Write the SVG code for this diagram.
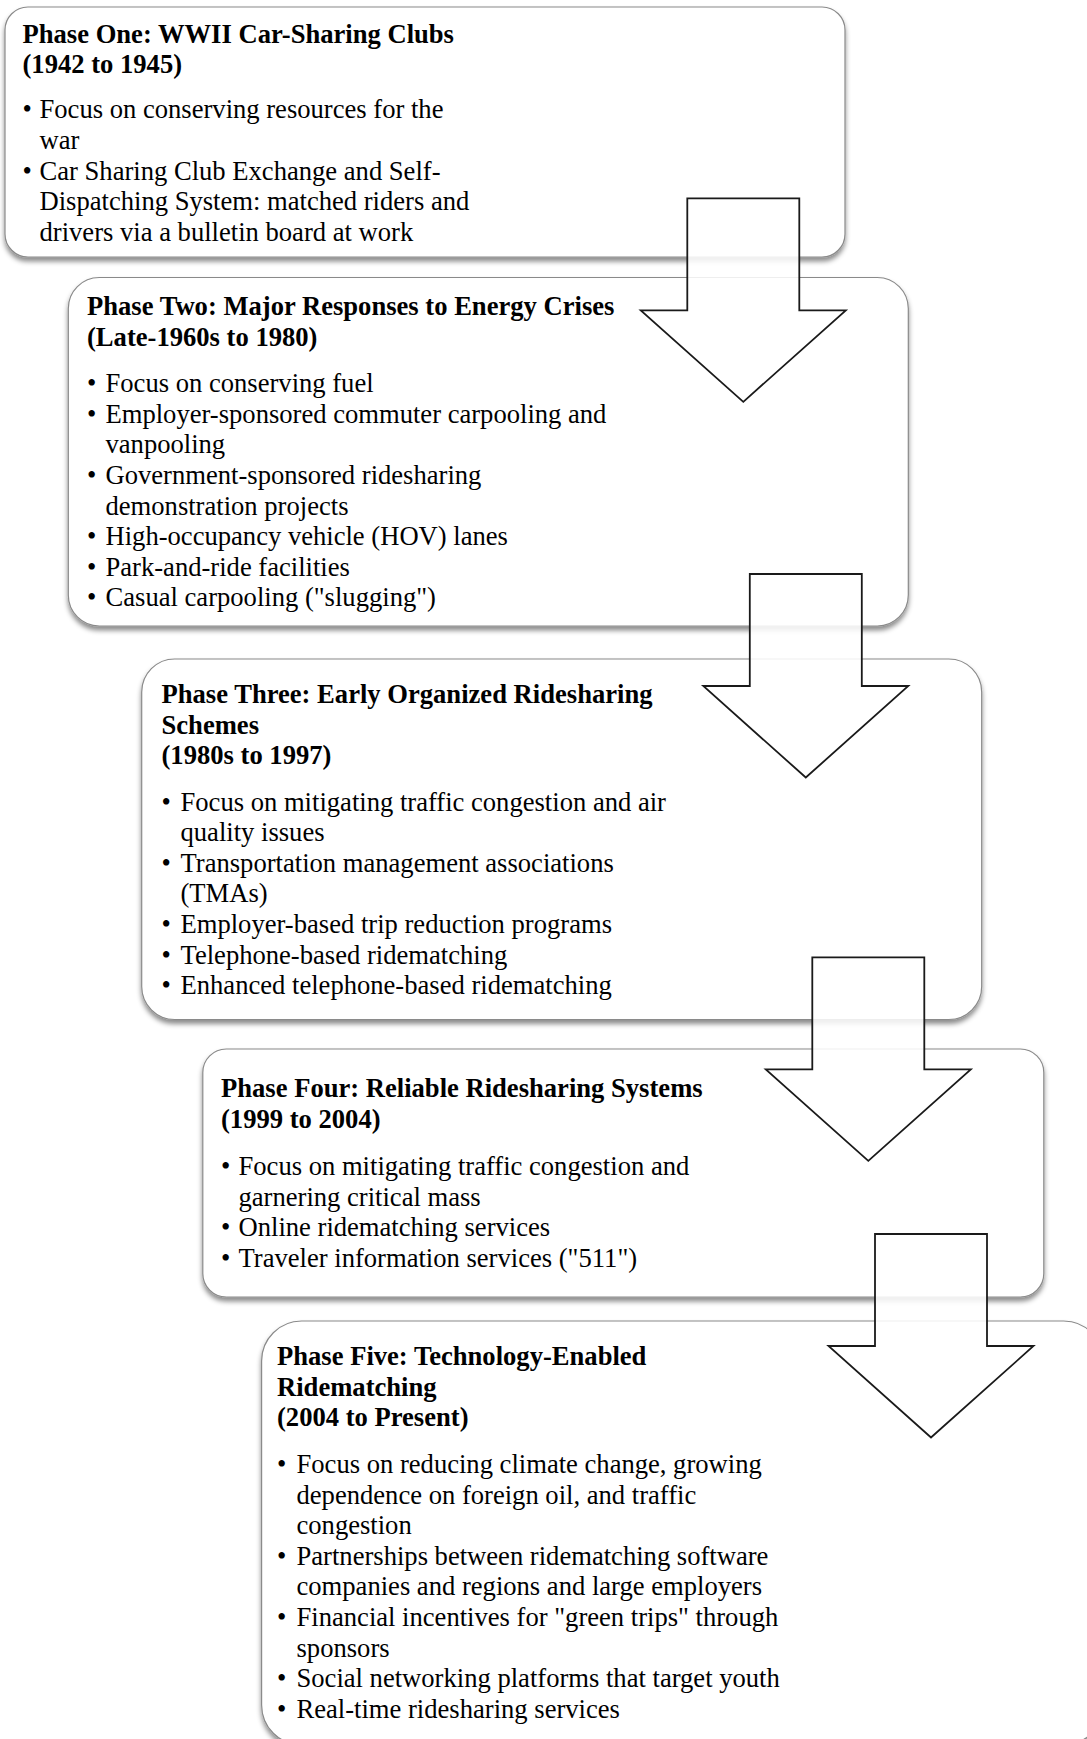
<svg xmlns="http://www.w3.org/2000/svg" width="1087" height="1739" viewBox="0 0 1087 1739">
<defs>
<filter id="sh" x="-5%" y="-5%" width="110%" height="115%">
<feDropShadow dx="0" dy="4" stdDeviation="2.5" flood-color="#000" flood-opacity="0.45"/>
</filter>
</defs>
<style>
.box{fill:#fff;stroke:#8a8a8a;stroke-width:1.2;filter:url(#sh)}
.arrow{fill:#fff;fill-opacity:0.86;stroke:#1a1a1a;stroke-width:1.8;stroke-linejoin:miter}
text{font-family:"Liberation Serif","Times New Roman",serif;font-size:26.6px;fill:#000}
.t{font-weight:bold}
</style>
<rect width="1087" height="1739" fill="#fff"/>

<g id="phase1">
<rect class="box" x="5" y="7" width="840" height="250" rx="23" ry="23"/>
<text class="t" x="22.5" y="42.5">Phase One: WWII Car-Sharing Clubs</text>
<text class="t" x="22.5" y="73.1">(1942 to 1945)</text>
<text x="22.5" y="118.3">•</text><text x="39.5" y="118.3">Focus on conserving resources for the</text>
<text x="39.5" y="148.9">war</text>
<text x="22.5" y="179.5">•</text><text x="39.5" y="179.5">Car Sharing Club Exchange and Self-</text>
<text x="39.5" y="210.1">Dispatching System: matched riders and</text>
<text x="39.5" y="240.7">drivers via a bulletin board at work</text>
</g>

<g id="phase2">
<rect class="box" x="68.3" y="277.5" width="840" height="348.5" rx="31" ry="31"/>
<text class="t" x="87" y="315">Phase Two: Major Responses to Energy Crises</text>
<text class="t" x="87" y="345.6">(Late-1960s to 1980)</text>
<text x="87" y="392.2">•</text><text x="105.5" y="392.2">Focus on conserving fuel</text>
<text x="87" y="422.8">•</text><text x="105.5" y="422.8">Employer-sponsored commuter carpooling and</text>
<text x="105.5" y="453.4">vanpooling</text>
<text x="87" y="484">•</text><text x="105.5" y="484">Government-sponsored ridesharing</text>
<text x="105.5" y="514.6">demonstration projects</text>
<text x="87" y="545.2">•</text><text x="105.5" y="545.2">High-occupancy vehicle (HOV) lanes</text>
<text x="87" y="575.8">•</text><text x="105.5" y="575.8">Park-and-ride facilities</text>
<text x="87" y="606.4">•</text><text x="105.5" y="606.4">Casual carpooling ("slugging")</text>
</g>

<g id="phase3">
<rect class="box" x="141.7" y="659" width="840" height="360.5" rx="33" ry="33"/>
<text class="t" x="161.5" y="703">Phase Three: Early Organized Ridesharing</text>
<text class="t" x="161.5" y="733.6">Schemes</text>
<text class="t" x="161.5" y="764.2">(1980s to 1997)</text>
<text x="161.5" y="810.6">•</text><text x="180.5" y="810.6">Focus on mitigating traffic congestion and air</text>
<text x="180.5" y="841.2">quality issues</text>
<text x="161.5" y="871.8">•</text><text x="180.5" y="871.8">Transportation management associations</text>
<text x="180.5" y="902.4">(TMAs)</text>
<text x="161.5" y="933">•</text><text x="180.5" y="933">Employer-based trip reduction programs</text>
<text x="161.5" y="963.6">•</text><text x="180.5" y="963.6">Telephone-based ridematching</text>
<text x="161.5" y="994.2">•</text><text x="180.5" y="994.2">Enhanced telephone-based ridematching</text>
</g>

<g id="phase4">
<rect class="box" x="202.8" y="1049" width="841" height="248" rx="23.5" ry="23.5"/>
<text class="t" x="221" y="1097">Phase Four: Reliable Ridesharing Systems</text>
<text class="t" x="221" y="1127.6">(1999 to 2004)</text>
<text x="221" y="1175">•</text><text x="238.5" y="1175">Focus on mitigating traffic congestion and</text>
<text x="238.5" y="1205.6">garnering critical mass</text>
<text x="221" y="1236.2">•</text><text x="238.5" y="1236.2">Online ridematching services</text>
<text x="221" y="1266.8">•</text><text x="238.5" y="1266.8">Traveler information services ("511")</text>
</g>

<g id="phase5">
<rect class="box" x="261.6" y="1321" width="842" height="424" rx="40" ry="40"/>
<text class="t" x="277" y="1365">Phase Five: Technology-Enabled</text>
<text class="t" x="277" y="1395.6">Ridematching</text>
<text class="t" x="277" y="1426.2">(2004 to Present)</text>
<text x="277" y="1473">•</text><text x="296.5" y="1473">Focus on reducing climate change, growing</text>
<text x="296.5" y="1503.6">dependence on foreign oil, and traffic</text>
<text x="296.5" y="1534.2">congestion</text>
<text x="277" y="1564.8">•</text><text x="296.5" y="1564.8">Partnerships between ridematching software</text>
<text x="296.5" y="1595.4">companies and regions and large employers</text>
<text x="277" y="1626">•</text><text x="296.5" y="1626">Financial incentives for "green trips" through</text>
<text x="296.5" y="1656.6">sponsors</text>
<text x="277" y="1687.2">•</text><text x="296.5" y="1687.2">Social networking platforms that target youth</text>
<text x="277" y="1717.8">•</text><text x="296.5" y="1717.8">Real-time ridesharing services</text>
</g>

<g id="connectors">
<path class="arrow" d="M687.3,198.3 H799.3 V310.3 H845.8 L743.3,401.8 L640.8,310.3 H687.3 Z"/>
<path class="arrow" d="M749.8,574 H861.8 V686 H908.3 L805.8,777.5 L703.3,686 H749.8 Z"/>
<path class="arrow" d="M812.3,957.3 H924.3 V1069.3 H970.8 L868.3,1160.8 L765.8,1069.3 H812.3 Z"/>
<path class="arrow" d="M875,1234 H987 V1346 H1033.5 L931,1437.5 L828.5,1346 H875 Z"/>
</g>
</svg>
